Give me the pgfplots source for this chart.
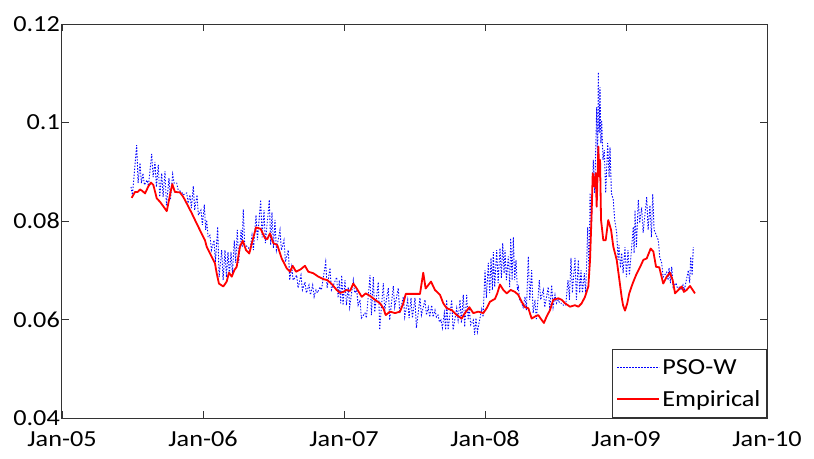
\documentclass[border=0pt]{standalone}
\usepackage{fontspec}
\setmainfont{Carlito}[FakeStretch=1.14]
\usepackage{pgfplots}
\pgfplotsset{compat=1.18}
\usepackage{pgfplotstable}

% x: years since January 2005, y: volatility level
\pgfplotstableread{
x y
0.4894 0.0869
0.4994 0.0853
0.5298 0.0954
0.5398 0.0877
0.5532 0.0918
0.5632 0.0877
0.5745 0.0897
0.5845 0.0873
0.6028 0.0883
0.6128 0.0871
0.6362 0.0936
0.6462 0.0889
0.6596 0.0920
0.6696 0.0869
0.6830 0.0914
0.6930 0.0849
0.7071 0.0897
0.7171 0.0849
0.7305 0.0901
0.7405 0.0832
0.7589 0.0887
0.7689 0.0843
0.7851 0.0895
0.7951 0.0877
0.8135 0.0877
0.8235 0.0863
0.8489 0.0859
0.8589 0.0853
0.8844 0.0857
0.8944 0.0836
0.9078 0.0853
0.9178 0.0826
0.9312 0.0871
0.9412 0.0822
0.9574 0.0853
0.9674 0.0812
0.9858 0.0822
0.9958 0.0792
1.0092 0.0833
1.0192 0.0782
1.0262 0.0802
1.0362 0.0767
1.0496 0.0771
1.0596 0.0741
1.0780 0.0761
1.0880 0.0717
1.1043 0.0788
1.1143 0.0686
1.1326 0.0741
1.1426 0.0680
1.1560 0.0741
1.1660 0.0686
1.1773 0.0737
1.1873 0.0690
1.1986 0.0737
1.2086 0.0694
1.2220 0.0761
1.2320 0.0715
1.2433 0.0782
1.2533 0.0715
1.2700 0.0782
1.2780 0.0747
1.2858 0.0824
1.2958 0.0751
1.3213 0.0747
1.3313 0.0737
1.3475 0.0771
1.3575 0.0741
1.3759 0.0812
1.3859 0.0761
1.4092 0.0843
1.4192 0.0767
1.4326 0.0822
1.4426 0.0755
1.4702 0.0843
1.4802 0.0751
1.4894 0.0818
1.4994 0.0745
1.5106 0.0802
1.5206 0.0741
1.5461 0.0782
1.5561 0.0741
1.5745 0.0761
1.5845 0.0717
1.6050 0.0741
1.6150 0.0680
1.6291 0.0707
1.6391 0.0680
1.6645 0.0690
1.6745 0.0664
1.6950 0.0690
1.7050 0.0660
1.7234 0.0676
1.7334 0.0654
1.7518 0.0670
1.7618 0.0650
1.7780 0.0670
1.7880 0.0646
1.8014 0.0660
1.8114 0.0654
1.8298 0.0666
1.8398 0.0660
1.8702 0.0717
1.8802 0.0664
1.9007 0.0705
1.9107 0.0660
1.9482 0.0686
1.9582 0.0644
1.9667 0.0680
1.9767 0.0633
1.9837 0.0690
1.9937 0.0629
2.0071 0.0680
2.0171 0.0629
2.0305 0.0666
2.0405 0.0625
2.0660 0.0680
2.0760 0.0654
2.0901 0.0660
2.1001 0.0629
2.1135 0.0640
2.1235 0.0603
2.1489 0.0613
2.1589 0.0603
2.1844 0.0690
2.1944 0.0609
2.2078 0.0686
2.2178 0.0615
2.2433 0.0676
2.2533 0.0579
2.2787 0.0674
2.2887 0.0619
2.3142 0.0664
2.3242 0.0599
2.3496 0.0668
2.3596 0.0625
2.3851 0.0664
2.3951 0.0613
2.4206 0.0646
2.4306 0.0605
2.4518 0.0640
2.4618 0.0603
2.4752 0.0644
2.4852 0.0603
2.5035 0.0644
2.5135 0.0583
2.5390 0.0644
2.5490 0.0609
2.5745 0.0640
2.5845 0.0609
2.5979 0.0625
2.6079 0.0605
2.6220 0.0629
2.6320 0.0605
2.6454 0.0619
2.6554 0.0605
2.6667 0.0609
2.6767 0.0595
2.6879 0.0599
2.6979 0.0583
2.7113 0.0613
2.7213 0.0579
2.7284 0.0640
2.7384 0.0579
2.7638 0.0640
2.7738 0.0579
2.7993 0.0623
2.8093 0.0599
2.8227 0.0640
2.8327 0.0593
2.8461 0.0650
2.8561 0.0585
2.8702 0.0650
2.8802 0.0599
2.8887 0.0623
2.8987 0.0589
2.9170 0.0599
2.9270 0.0569
2.9362 0.0603
2.9462 0.0575
2.9766 0.0621
2.9866 0.0605
3.0000 0.0700
3.0100 0.0644
3.0234 0.0715
3.0334 0.0654
3.0426 0.0725
3.0526 0.0660
3.0589 0.0737
3.0689 0.0666
3.0830 0.0741
3.0930 0.0674
3.1064 0.0745
3.1164 0.0684
3.1255 0.0755
3.1355 0.0694
3.1418 0.0741
3.1518 0.0680
3.1652 0.0728
3.1752 0.0666
3.1823 0.0765
3.1923 0.0680
3.2007 0.0767
3.2107 0.0680
3.2199 0.0721
3.2299 0.0660
3.2362 0.0666
3.2462 0.0640
3.2603 0.0633
3.2703 0.0625
3.2837 0.0646
3.2937 0.0619
3.3071 0.0728
3.3171 0.0640
3.3312 0.0700
3.3412 0.0613
3.3546 0.0640
3.3646 0.0599
3.3851 0.0680
3.3951 0.0640
3.4135 0.0660
3.4235 0.0625
3.4489 0.0666
3.4589 0.0619
3.4730 0.0670
3.4830 0.0625
3.4965 0.0650
3.5065 0.0633
3.5199 0.0640
3.5299 0.0633
3.5461 0.0633
3.5561 0.0629
3.5723 0.0629
3.5887 0.0680
3.5987 0.0640
3.6099 0.0725
3.6199 0.0654
3.6383 0.0725
3.6483 0.0640
3.6617 0.0721
3.6717 0.0654
3.6809 0.0700
3.6909 0.0654
3.7043 0.0694
3.7143 0.0654
3.7284 0.0788
3.7384 0.0686
3.7447 0.0857
3.7547 0.0788
3.7681 0.0924
3.7781 0.0857
3.7922 0.1031
3.7990 0.0924
3.8035 0.1102
3.8100 0.0979
3.8156 0.1072
3.8220 0.0958
3.8277 0.1005
3.8370 0.0924
3.8461 0.0944
3.8561 0.0857
3.8702 0.0958
3.8802 0.0889
3.8865 0.0950
3.8965 0.0857
3.9099 0.0843
3.9199 0.0802
3.9340 0.0776
3.9440 0.0721
3.9504 0.0751
3.9604 0.0705
3.9695 0.0735
3.9795 0.0694
3.9929 0.0747
4.0029 0.0686
4.0142 0.0741
4.0242 0.0690
4.0518 0.0788
4.0578 0.0735
4.0638 0.0822
4.0738 0.0747
4.0872 0.0843
4.0972 0.0796
4.1113 0.0828
4.1213 0.0776
4.1468 0.0849
4.1568 0.0782
4.1702 0.0832
4.1802 0.0767
4.1894 0.0855
4.1994 0.0782
4.2291 0.0761
4.2391 0.0727
4.2532 0.0715
4.2632 0.0686
4.2887 0.0696
4.2987 0.0680
4.3050 0.0705
4.3150 0.0674
4.3241 0.0707
4.3341 0.0666
4.3546 0.0674
4.3646 0.0664
4.3830 0.0666
4.3930 0.0660
4.4043 0.0670
4.4143 0.0660
4.4418 0.0700
4.4518 0.0674
4.4589 0.0727
4.4689 0.0690
4.4773 0.0747
}\psow

\pgfplotstableread{
x y
0.494 0.0847
0.518 0.0859
0.537 0.0859
0.553 0.0864
0.570 0.0861
0.589 0.0856
0.612 0.0870
0.631 0.0878
0.648 0.0873
0.672 0.0846
0.695 0.0839
0.718 0.0830
0.743 0.0820
0.766 0.0853
0.782 0.0875
0.801 0.0859
0.837 0.0858
0.860 0.0849
0.884 0.0836
0.920 0.0816
0.955 0.0795
0.991 0.0774
1.014 0.0761
1.026 0.0748
1.062 0.0727
1.085 0.0714
1.097 0.0694
1.113 0.0673
1.144 0.0667
1.168 0.0677
1.184 0.0695
1.204 0.0687
1.222 0.0700
1.239 0.0707
1.262 0.0748
1.282 0.0760
1.305 0.0741
1.328 0.0734
1.352 0.0761
1.376 0.0787
1.409 0.0784
1.440 0.0765
1.456 0.0763
1.475 0.0775
1.499 0.0755
1.527 0.0751
1.558 0.0724
1.594 0.0704
1.617 0.0697
1.636 0.0709
1.660 0.0697
1.693 0.0702
1.723 0.0709
1.747 0.0697
1.782 0.0694
1.818 0.0687
1.853 0.0682
1.882 0.0680
1.913 0.0672
1.948 0.0660
1.972 0.0654
1.995 0.0656
2.019 0.0660
2.043 0.0658
2.066 0.0673
2.090 0.0663
2.126 0.0646
2.154 0.0653
2.184 0.0648
2.220 0.0640
2.255 0.0633
2.279 0.0623
2.296 0.0609
2.326 0.0616
2.362 0.0613
2.397 0.0616
2.421 0.0633
2.438 0.0652
2.468 0.0652
2.504 0.0652
2.539 0.0652
2.562 0.0695
2.579 0.0663
2.617 0.0677
2.645 0.0660
2.681 0.0650
2.704 0.0633
2.728 0.0623
2.764 0.0619
2.799 0.0609
2.835 0.0602
2.858 0.0613
2.889 0.0625
2.917 0.0613
2.952 0.0616
2.988 0.0613
3.012 0.0623
3.035 0.0636
3.071 0.0642
3.087 0.0653
3.106 0.0671
3.130 0.0660
3.154 0.0653
3.182 0.0660
3.213 0.0656
3.236 0.0650
3.260 0.0636
3.284 0.0625
3.307 0.0623
3.331 0.0602
3.355 0.0606
3.378 0.0609
3.402 0.0599
3.418 0.0593
3.437 0.0606
3.461 0.0619
3.484 0.0640
3.520 0.0643
3.544 0.0640
3.567 0.0633
3.603 0.0626
3.638 0.0629
3.662 0.0626
3.686 0.0633
3.709 0.0646
3.733 0.0667
3.745 0.0721
3.757 0.0822
3.764 0.0897
3.775 0.0870
3.785 0.0897
3.792 0.0829
3.804 0.0951
3.811 0.0890
3.816 0.0924
3.823 0.0802
3.839 0.0761
3.856 0.0761
3.874 0.0802
3.894 0.0782
3.910 0.0748
3.934 0.0721
3.950 0.0687
3.969 0.0646
3.979 0.0629
3.993 0.0618
4.009 0.0633
4.023 0.0653
4.047 0.0673
4.071 0.0690
4.099 0.0706
4.123 0.0721
4.147 0.0724
4.175 0.0744
4.194 0.0738
4.213 0.0707
4.236 0.0706
4.264 0.0673
4.289 0.0687
4.312 0.0695
4.331 0.0680
4.348 0.0653
4.371 0.0660
4.395 0.0667
4.411 0.0656
4.430 0.0660
4.454 0.0668
4.473 0.0660
4.489 0.0653
}\empirical

\begin{document}
\begin{tikzpicture}
\begin{axis}[
  at={(0pt,0pt)}, anchor=south west,
  scale only axis, width=705pt, height=394pt,
  xmin=0, xmax=5, ymin=0.04, ymax=0.12,
  xtick={0,1,2,3,4,5},
  xticklabels={Jan-05,Jan-06,Jan-07,Jan-08,Jan-09,Jan-10},
  ytick={0.04,0.06,0.08,0.1,0.12},
  yticklabels={0.04,0.06,0.08,0.1,0.12},
  tick align=inside, major tick length=7pt,
  axis line style={black!80, line width=1pt},
  tick style={black!80, line width=0.8pt},
  ticklabel style={font=\fontsize{23}{26}\selectfont},
  xticklabel style={yshift=-13pt, inner xsep=1pt, inner ysep=0pt},
  yticklabel style={inner xsep=2pt, inner ysep=0pt},
  legend style={at={(1,0)}, anchor=south east, draw=black!80, line width=1pt,
    font=\fontsize{23}{26}\selectfont, cells={anchor=west},
    inner xsep=4pt, inner ysep=8pt, row sep=10pt},
  legend image code/.code={\draw[#1] (0pt,0pt) -- (42pt,0pt);},
]
\addplot[blue, line width=0.9pt, dash pattern=on 1.4pt off 1.6pt] table[x=x, y=y] {\psow};
\addlegendentry{PSO-W}
\addplot[red, line width=1.8pt, line join=round] table[x=x, y=y] {\empirical};
\addlegendentry{Empirical}
\end{axis}
\pgfresetboundingbox
\path[use as bounding box] (-62pt,-40pt) rectangle (752pt,418pt);
\end{tikzpicture}
\end{document}
